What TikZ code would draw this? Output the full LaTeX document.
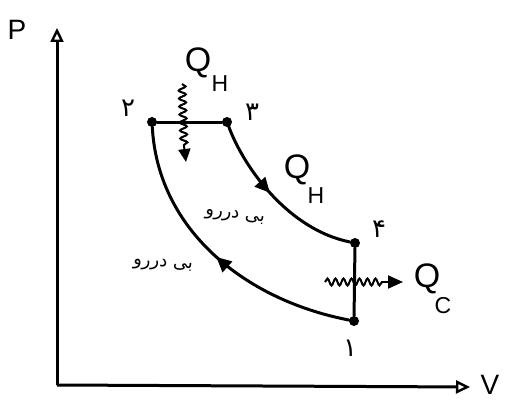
\documentclass[tikz,border=0pt]{standalone}
\usepackage{fontspec}
\setmainfont{Liberation Sans}
\newfontfamily\arabicfont[Script=Arabic]{DejaVu Sans}
\TeXXeTstate=1
\usetikzlibrary{arrows.meta,decorations.pathmorphing,decorations.markings}
\begin{document}
\begin{tikzpicture}[x=1pt,y=-1pt,
  line/.style={line width=3pt,line cap=round},
  axis/.style={line width=3pt,-{Triangle[open,length=14pt,width=13pt,line width=2.4pt]}},
  pt/.style={circle,fill,inner sep=0pt,minimum size=10pt},
  wavy/.style={line width=2pt,decorate,decoration={snake,amplitude=3.5pt,segment length=8pt}},
  midarrow/.style={postaction={decorate},decoration={markings,mark=at position #1 with {\arrow{Triangle[length=15pt,width=14pt]}}}},
  lbl/.style={font=\fontsize{28}{28}\selectfont,inner sep=1pt},
  qlbl/.style={font=\fontsize{34}{34}\selectfont,inner sep=1pt},
  sub/.style={font=\fontsize{23}{23}\selectfont,inner sep=1pt},
  num/.style={font=\arabicfont\fontsize{26}{26}\selectfont,inner sep=1pt},
  fa/.style={font=\arabicfont\fontsize{18}{18}\selectfont,inner sep=1pt}
]
\useasboundingbox (0,0) rectangle (508,401);
\coordinate (O) at (57,385);
\coordinate (Ptop) at (57,28);
\coordinate (Vend) at (470,387);
\draw[axis] (O) -- (Ptop);
\draw[axis] (O) -- (Vend);
\node[lbl] (P) at (17,30) {P};
\node[lbl] (V) at (490,385) {V};

\node[pt] (n2) at (152,122) {};
\node[pt] (n3) at (227,122) {};
\node[pt] (n4) at (355,243) {};
\node[pt] (n1) at (354,321) {};

\node[num] (l2) at (128,108) {\beginR ۲\endR};
\node[num] (l3) at (252,112) {\beginR ۳\endR};
\node[num] (l4) at (379,229) {\beginR ۴\endR};
\node[num] (l1) at (350,348) {\beginR ۱\endR};

\draw[line] (n2) -- (n3);
\draw[line,midarrow=0.45] (n3) .. controls (245,170) and (290,230) .. (n4);
\draw[line] (n4) -- (n1);
\draw[line,midarrow=0.5] (n1) .. controls (245,300) and (158,230) .. (n2);

% Q_H top
\coordinate (qh1s) at (182,84);
\coordinate (qh1e) at (184,146);
\coordinate (qh1t) at (186,162);
\draw[wavy] (qh1s) -- (qh1e);
\draw[line width=2pt,-{Triangle[length=13pt,width=12pt]}] (qh1e) -- (qh1t);
\node[qlbl] (QH1) at (198,63) {Q};
\node[sub] (H1) at (220,84) {H};

% Q_H right
\node[qlbl] (QH2) at (297,170) {Q};
\node[sub] (H2) at (316,196) {H};

% Q_C
\coordinate (qcs) at (325,282);
\coordinate (qce) at (383,282);
\coordinate (qct) at (403,282);
\draw[wavy] (qcs) -- (qce);
\draw[line width=2pt,-{Triangle[length=15pt,width=13pt]}] (qce) -- (qct);
\node[qlbl] (QC) at (427,279) {Q};
\node[sub] (C) at (443,306) {C};

% Persian labels
\node[fa,rotate=-8] (a1) at (235,217) {\beginR بی دررو\endR};
\node[fa,rotate=-4] (a2) at (163,265) {\beginR بی دررو\endR};
\end{tikzpicture}
\end{document}
